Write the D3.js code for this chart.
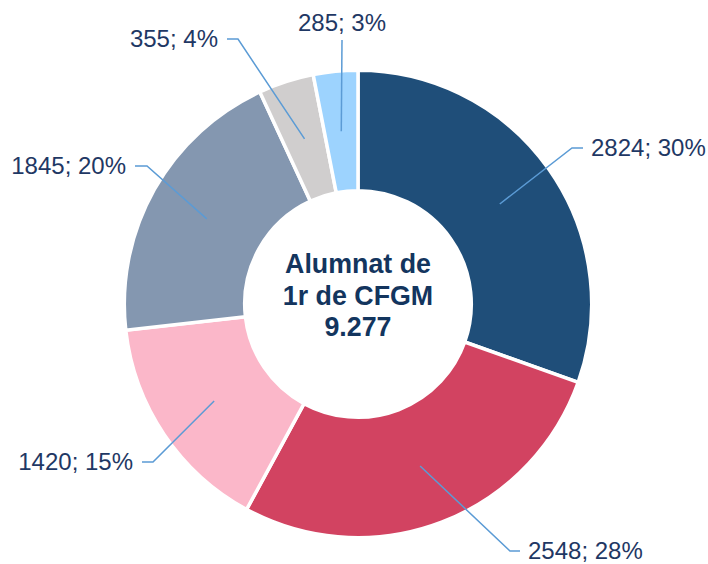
<!DOCTYPE html>
<html>
<head>
<meta charset="utf-8">
<script src="https://cdn.jsdelivr.net/npm/d3@7"></script>
<style>
  html, body { margin: 0; padding: 0; background: #fff; }
  svg { display: block; }
</style>
</head>
<body>
<svg id="chart" width="708" height="564"></svg>
<script>
// ---- data ----
const categories = ["A", "B", "C", "D", "E", "F"];
const values = [2824, 2548, 1420, 1845, 355, 285];
const percents = [30, 28, 15, 20, 4, 3];
const centerLines = ["Alumnat de", "1r de CFGM", "9.277"];

// ---- style / layout ----
const colors = ["#1F4E79", "#D24361", "#FBB7C9", "#8497B0", "#D0CECE", "#9DD3FE"];
// elbow offsets relative to the centre, horizontal tail and side of text
const elbows = [
  {dx: 214, dy: -156, tail: 11, side: "right"},
  {dx: 152, dy: 247, tail: 10, side: "right"},
  {dx: -205, dy: 158, tail: -11, side: "left"},
  {dx: -211, dy: -138, tail: -12, side: "left"},
  {dx: -120, dy: -265, tail: -11, side: "left"},
  {dx: -16, dy: -264, tail: 0, side: "top"}
];

const cx = 358, cy = 304;
const outerR = 233.7, innerR = 113.3;
const svg = d3.select("#chart");
const g = svg.append("g").attr("transform", `translate(${cx},${cy})`);

const data = categories.map((c, i) => ({cat: c, value: values[i], pct: percents[i], i}));
const pie = d3.pie().value(d => d.value).sort(null);
const arcs = pie(data);
const arc = d3.arc().innerRadius(innerR).outerRadius(outerR);
const centroidArc = d3.arc().innerRadius(115).outerRadius(232);

g.selectAll("path.slice")
  .data(arcs)
  .join("path")
  .attr("class", "slice")
  .attr("d", arc)
  .attr("fill", d => colors[d.data.i])
  .attr("stroke", "#fff")
  .attr("stroke-width", 3.5)
  .attr("stroke-linejoin", "miter");

// leader lines
const lineColor = "#5B9BD5";
g.selectAll("polyline.leader")
  .data(arcs)
  .join("polyline")
  .attr("class", "leader")
  .attr("fill", "none")
  .attr("stroke", lineColor)
  .attr("stroke-width", 1.5)
  .attr("points", d => {
    const c = centroidArc.centroid(d);
    const e = elbows[d.data.i];
    const pts = [c, [e.dx, e.dy]];
    if (e.tail !== 0) pts.push([e.dx + e.tail, e.dy]);
    return pts.map(p => p.join(",")).join(" ");
  });

// labels
const labelColor = "#1F3864";
g.selectAll("text.lbl")
  .data(arcs)
  .join("text")
  .attr("class", "lbl")
  .attr("font-family", "Liberation Sans, Arial, sans-serif")
  .attr("font-size", 24)
  .attr("fill", labelColor)
  .attr("x", d => {
    const e = elbows[d.data.i];
    if (e.side === "right") return e.dx + e.tail + 8;
    if (e.side === "left") return e.dx + e.tail - 9;
    return e.dx;
  })
  .attr("y", d => {
    const e = elbows[d.data.i];
    if (e.side === "top") return e.dy - 9;
    return e.dy + 8.4;
  })
  .attr("text-anchor", d => {
    const s = elbows[d.data.i].side;
    return s === "right" ? "start" : (s === "left" ? "end" : "middle");
  })
  .text(d => `${d.data.value}; ${d.data.pct}%`);

// centre text
g.selectAll("text.center")
  .data(centerLines)
  .join("text")
  .attr("class", "center")
  .attr("font-family", "Liberation Sans, Arial, sans-serif")
  .attr("font-weight", "bold")
  .attr("font-size", 26.8)
  .attr("fill", "#13355E")
  .attr("text-anchor", "middle")
  .attr("x", 0)
  .attr("y", (d, i) => (i - 1) * 31.4 + 0.5)
  .text(d => d);
</script>
</body>
</html>
